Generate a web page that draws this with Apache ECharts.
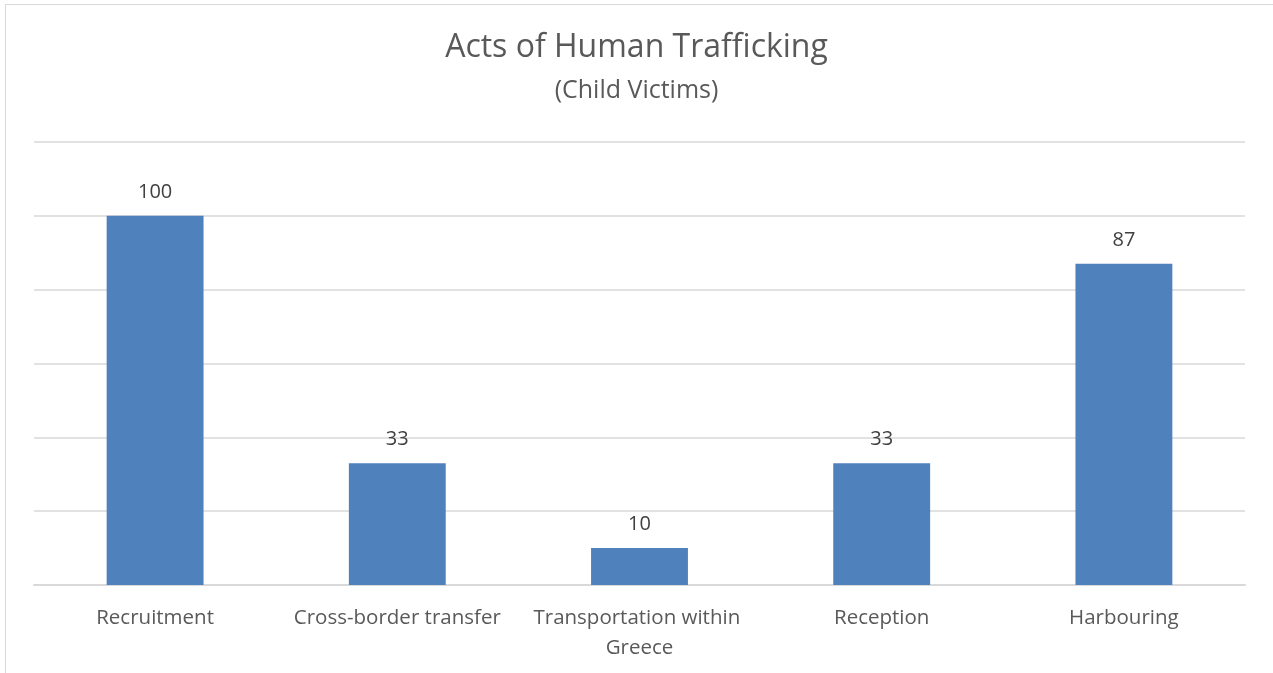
<!DOCTYPE html>
<html>
<head>
<meta charset="utf-8">
<script src="https://cdn.jsdelivr.net/npm/echarts@6/dist/echarts.min.js"></script>
<style>
  html, body { margin: 0; padding: 0; background: #fff; }
  #frame { position: absolute; left: 5px; top: 4px; width: 1280px; height: 680px; border: 1px solid #d9d9d9; box-sizing: border-box; }
  #chart { width: 1273px; height: 673px; position: absolute; left: 0; top: 0; }
</style>
</head>
<body>
<div id="frame"></div>
<div id="chart"></div>
<script>
const categories = ['Recruitment', 'Cross-border transfer', 'Transportation within Greece', 'Reception', 'Harbouring'];
const values = [100, 33, 10, 33, 87];

function renderChart() {
  const chart = echarts.init(document.getElementById('chart'));
  const option = {
    textStyle: { fontFamily: 'Open Sans' },
    title: {
      text: 'Acts of Human Trafficking',
      subtext: '(Child Victims)',
      left: 'center',
      top: 27,
      itemGap: 14,
      textStyle: { fontSize: 32, fontWeight: 'normal', color: '#595959', fontFamily: 'Open Sans' },
      subtextStyle: { fontSize: 25, color: '#595959', fontFamily: 'Open Sans' }
    },
    grid: { left: 34, right: 28, top: 142, bottom: 88 },
    xAxis: {
      type: 'category',
      data: categories,
      axisLine: { lineStyle: { color: '#d9d9d9', width: 2 } },
      axisTick: { show: false },
      axisLabel: {
        color: '#595959',
        fontSize: 20.5,
        margin: 18,
        lineHeight: 30,
        width: 230,
        overflow: 'break',
        interval: 0
      }
    },
    yAxis: {
      type: 'value',
      min: 0,
      max: 120,
      interval: 20,
      axisLabel: { show: false },
      axisLine: { show: false },
      axisTick: { show: false },
      splitLine: { lineStyle: { color: '#d9d9d9', width: 1.5 } }
    },
    series: [
      {
        type: 'bar',
        data: values,
        barWidth: '40%',
        itemStyle: { color: '#4f81bd' },
        label: { show: true, position: 'top', distance: 14, color: '#404040', fontSize: 20 }
      }
    ]
  };
  chart.setOption(option, true);
}
renderChart();
</script>
</body>
</html>
